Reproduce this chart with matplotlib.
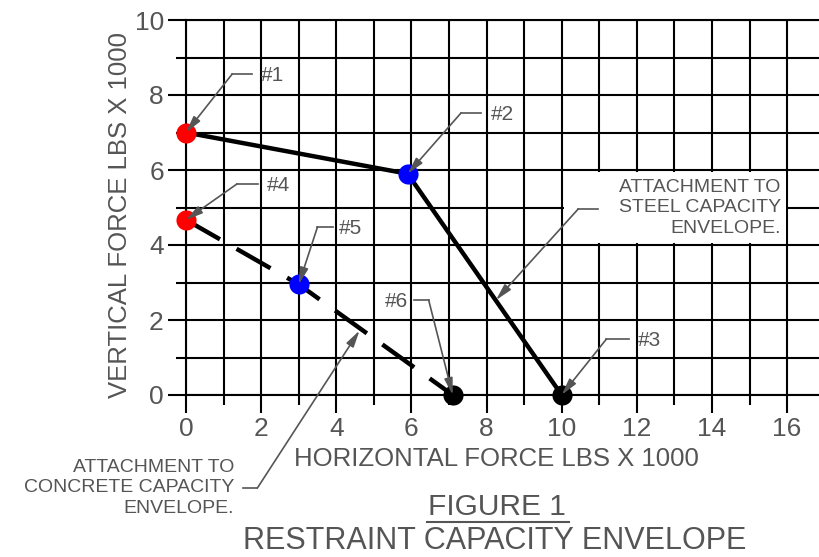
import matplotlib
matplotlib.use('Agg')
import matplotlib.pyplot as plt
from matplotlib.patches import Rectangle
from matplotlib.lines import Line2D

plt.rcParams['font.family'] = ['Liberation Sans', 'DejaVu Sans']

# ---- data ----
steel_x = [0, 5.9, 10]
steel_y = [7, 5.9, 0]
concrete_x = [0, 3, 7.1]
concrete_y = [4.67, 2.95, 0]

point_labels = ['#1', '#2', '#3', '#4', '#5', '#6']
point_x = [0, 5.9, 10, 0, 3, 7.1]
point_y = [7, 5.9, 0, 4.67, 2.95, 0]
point_colors = ['#ff0000', '#0000ff', '#000000', '#ff0000', '#0000ff', '#000000']

x_ticks = [0, 2, 4, 6, 8, 10, 12, 14, 16]
y_ticks = [0, 2, 4, 6, 8, 10]
x_minor = [1, 3, 5, 7, 9, 11, 13, 15]
y_minor = [1, 3, 5, 7, 9]

x_label = 'HORIZONTAL FORCE LBS X 1000'
y_label = 'VERTICAL FORCE LBS X 1000'
steel_note = 'ATTACHMENT TO\nSTEEL CAPACITY\nENVELOPE.'
concrete_note = 'ATTACHMENT TO\nCONCRETE CAPACITY\nENVELOPE.'
fig_title = 'FIGURE 1'
fig_subtitle = 'RESTRAINT CAPACITY ENVELOPE'

# leader layout: (kink_x, kink_y, hline_end_x, text_x, ha)
leaders = [
    (1.23, 8.56, 1.76, 1.98, 'left'),
    (7.32, 7.52, 7.85, 8.12, 'left'),
    (11.19, 1.49, 11.78, 12.04, 'left'),
    (1.36, 5.63, 1.92, 2.14, 'left'),
    (3.50, 4.48, 3.90, 4.06, 'left'),
    (6.46, 2.53, 6.06, 5.90, 'right'),
]

GREY = '#555555'
W, H = 819, 557

fig = plt.figure(figsize=(W / 100, H / 100), dpi=100)
ax = fig.add_axes([186 / W, 1 - 395 / H, (W - 186) / W, (395 - 20) / H])
ax.set_xlim(0, 16.85)
ax.set_ylim(0, 10)
ax.set_axisbelow(True)

ax.set_xticks(x_ticks)
ax.set_yticks(y_ticks)
ax.set_xticks(x_minor, minor=True)
ax.set_yticks(y_minor, minor=True)
ax.grid(True, which='both', color='black', linewidth=1.5)
ax.tick_params(which='major', length=13, width=1.5, color='black',
               labelsize=19, labelcolor=GREY, pad=3)
ax.tick_params(which='minor', length=7, width=1.5, color='black')
for s in ['left', 'bottom', 'top']:
    ax.spines[s].set_linewidth(1.5)
    ax.spines[s].set_color('black')
ax.spines['right'].set_visible(False)

# white box behind steel note
ax.add_patch(Rectangle((10.07, 4.05), 5.9, 1.9, facecolor='white',
                       edgecolor='none', zorder=1))

# envelopes
ax.plot(steel_x, steel_y, color='black', linewidth=3.2, zorder=3,
        solid_capstyle='butt')
ax.plot(concrete_x, concrete_y, color='black', linewidth=3.2, zorder=3,
        dashes=(8.8, 4.3), dash_capstyle='butt')

# points
for x, y, c in zip(point_x, point_y, point_colors):
    ax.plot([x], [y], 'o', markersize=14.5, color=c, markeredgewidth=0,
            zorder=4, clip_on=False)

arrowprops = dict(arrowstyle='-|>,head_length=1.0,head_width=0.25',
                  color=GREY, linewidth=1.2, mutation_scale=10,
                  shrinkA=0, shrinkB=0)

# point leaders
for lab, px, py, (kx, ky, hx, tx, ha) in zip(point_labels, point_x, point_y, leaders):
    ax.annotate('', xy=(px, py), xytext=(kx, ky), arrowprops=arrowprops,
                zorder=5, annotation_clip=False)
    ax.plot([kx, hx], [ky, ky], color=GREY, linewidth=1.2, zorder=5,
            clip_on=False)
    ax.text(tx, ky - 0.04, lab, ha=ha, va='center', fontsize=15, color=GREY,
            zorder=6)

# steel note
ax.annotate('', xy=(8.25, 2.53), xytext=(10.44, 4.96), arrowprops=arrowprops,
            zorder=5, annotation_clip=False)
ax.plot([10.44, 10.97], [4.96, 4.96], color=GREY, linewidth=1.2, zorder=5)
ax.text(15.83, 4.99, steel_note, ha='right', va='center', multialignment='right',
        fontsize=14, color=GREY, linespacing=1.25, zorder=6)

# concrete note
ax.annotate('', xy=(4.62, 1.72), xytext=(1.90, -2.48), arrowprops=arrowprops,
            zorder=5, annotation_clip=False)
ax.plot([1.52, 1.90], [-2.48, -2.48], color=GREY, linewidth=1.2, zorder=5,
        clip_on=False)
ax.text(1.28, -2.48, concrete_note, ha='right', va='center',
        multialignment='right', fontsize=14, color=GREY, linespacing=1.25,
        zorder=6, clip_on=False)

# axis labels
fig.text(496 / W, 1 - 459 / H, x_label, ha='center', va='center',
         fontsize=18.5, color=GREY)
fig.text(120 / W, 1 - 215 / H, y_label, ha='center', va='center',
         fontsize=18.5, color=GREY, rotation=90)

# titles
fig.text(497 / W, 1 - 507 / H, fig_title, ha='center', va='center',
         fontsize=21.5, color=GREY)
fig.add_artist(Line2D([427 / W, 569 / W], [1 - 522 / H, 1 - 522 / H],
                      color=GREY, linewidth=1.5))
fig.text(495 / W, 1 - 541 / H, fig_subtitle, ha='center', va='center',
         fontsize=22, color=GREY)

fig.savefig('out.png', dpi=100)
